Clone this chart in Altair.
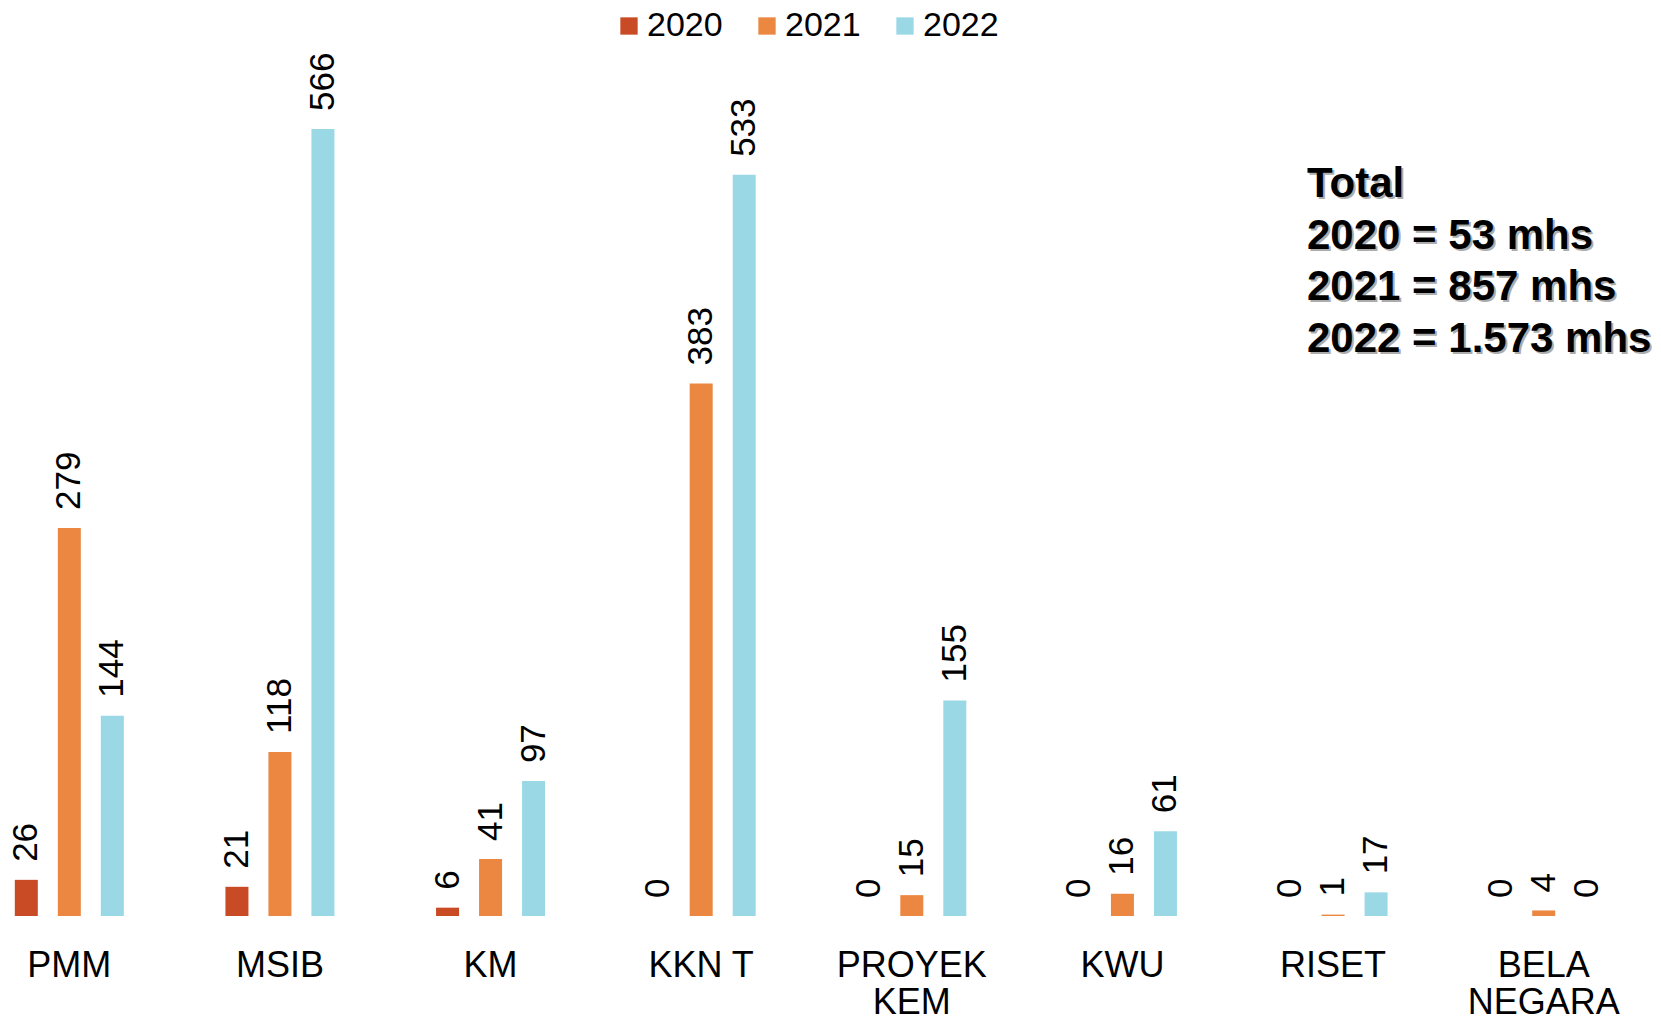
import altair as alt
import pandas as pd

categories = ["PMM", "MSIB", "KM", "KKN T", "PROYEK KEM", "KWU", "RISET", "BELA NEGARA"]
years = ["2020", "2021", "2022"]
values_2020 = [26, 21, 6, 0, 0, 0, 0, 0]
values_2021 = [279, 118, 41, 383, 15, 16, 1, 4]
values_2022 = [144, 566, 97, 533, 155, 61, 17, 0]
colors = ["#C94B25", "#EB8741", "#9AD8E6"]
total_lines = ["Total", "2020 = 53 mhs", "2021 = 857 mhs", "2022 = 1.573 mhs"]

rows = []
for yr, vals in zip(years, [values_2020, values_2021, values_2022]):
    for c, v in zip(categories, vals):
        rows.append({"kategori": c, "tahun": yr, "jumlah": v})
df = pd.DataFrame(rows)

FONT = "Liberation Sans"

x_enc = alt.X(
    "kategori:N",
    sort=categories,
    scale=alt.Scale(range=[-44, 1641], paddingInner=0.3875, paddingOuter=0.19375),
    axis=alt.Axis(
        title=None, domain=False, ticks=False, grid=False,
        labelAngle=0, labelFont=FONT, labelFontSize=36, labelColor="black",
        labelPadding=32, labelBaseline="top", labelLineHeight=37,
        labelExpr="datum.label == 'PROYEK KEM' ? ['PROYEK','KEM'] : datum.label == 'BELA NEGARA' ? ['BELA','NEGARA'] : datum.label",
    ),
)
xo_enc = alt.XOffset("tahun:N", sort=years,
                     scale=alt.Scale(paddingInner=0.465, paddingOuter=0.2325))
y_enc = alt.Y("jumlah:Q", scale=alt.Scale(domain=[0, 653], nice=False, zero=True), axis=None)

base = alt.Chart(df)

bars = base.mark_bar().encode(
    x=x_enc,
    xOffset=xo_enc,
    y=y_enc,
    color=alt.Color(
        "tahun:N",
        sort=years,
        scale=alt.Scale(domain=years, range=colors),
        legend=alt.Legend(
            title=None, orient="none", direction="horizontal",
            legendX=604, legendY=1, padding=0,
            symbolType="square", symbolSize=300, symbolStrokeWidth=0,
            labelFont=FONT, labelFontSize=34, labelColor="black",
            labelOffset=1, columnPadding=27,
        ),
    ),
)

labels = base.mark_text(
    angle=270, align="left", baseline="middle", dx=18,
    font=FONT, fontSize=35, color="black",
).encode(
    x=alt.X("kategori:N", sort=categories),
    xOffset=alt.XOffset("tahun:N", sort=years),
    y=alt.Y("jumlah:Q"),
    text=alt.Text("jumlah:Q"),
)

total_df = pd.DataFrame({"teks": ["\n".join(total_lines)]})
shadow = alt.Chart(total_df).mark_text(
    align="left", baseline="alphabetic", lineBreak="\n", lineHeight=51.5,
    font=FONT, fontSize=42, fontWeight="bold", color="#8a8a8a", opacity=0.7,
    dx=2, dy=2,
).encode(x=alt.value(1299), y=alt.value(189), text="teks:N")
total = alt.Chart(total_df).mark_text(
    align="left", baseline="alphabetic", lineBreak="\n", lineHeight=51.5,
    font=FONT, fontSize=42, fontWeight="bold", color="black",
).encode(x=alt.value(1299), y=alt.value(189), text="teks:N")

chart = alt.layer(bars, labels, shadow, total).properties(
    width=1645,
    height=908,
    autosize=alt.AutoSizeParams(type="none"),
    padding={"left": 0, "top": 0, "right": 0, "bottom": 107},
).configure(background="white").configure_view(stroke=None, strokeWidth=0)

chart.save("out.html", embed_options={"renderer": "svg", "actions": False})
